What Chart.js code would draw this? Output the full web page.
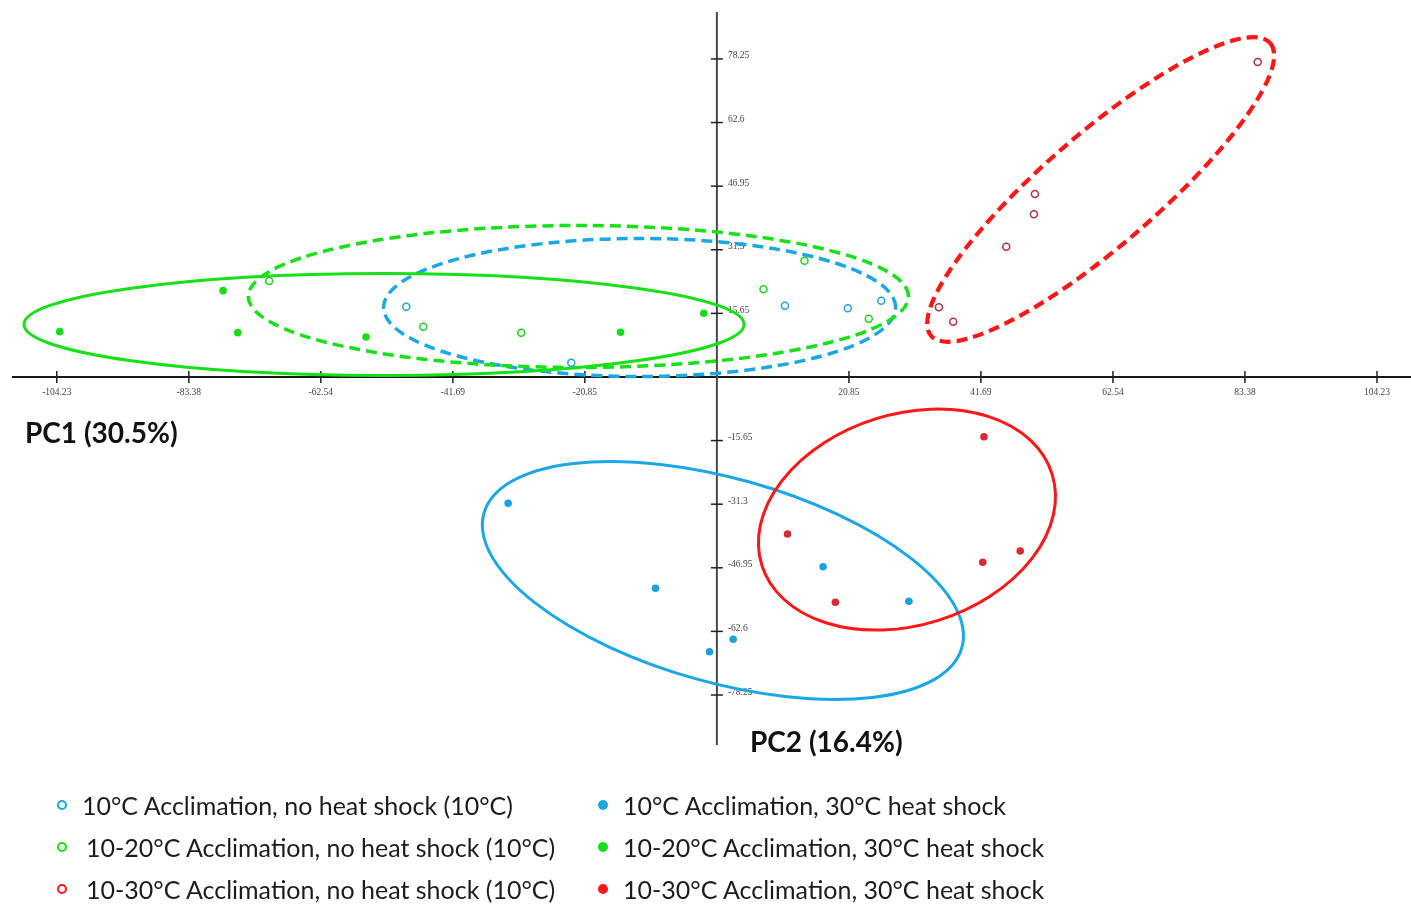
<!DOCTYPE html>
<html>
<head>
<meta charset="utf-8">
<script src="https://cdn.jsdelivr.net/npm/chart.js@4.4.1/dist/chart.umd.min.js"></script>
<style>
  html, body { margin: 0; padding: 0; background: #fff; }
  #wrap { position: relative; width: 1411px; height: 904px; overflow: hidden; }
  #pca { position: absolute; left: 0; top: 0; }
  #legend {
    position: absolute; left: 57px; top: 784px;
    display: grid; grid-template-columns: 541px auto;
    grid-auto-flow: column; grid-template-rows: repeat(3, 42px);
    font-family: Lato, "Open Sans", sans-serif; font-size: 25px; color: #1c1c1c;
  }
  .item { display: flex; align-items: center; white-space: nowrap; }
  .mark { width: 10px; height: 10px; border-radius: 50%; margin-right: 15px; box-sizing: border-box; flex: none; }
</style>
</head>
<body>
<div id="wrap">
  <canvas id="pca" width="1411" height="904"></canvas>
  <div id="legend"></div>
</div>
<script>
// tick labels
const xTicks = [-104.23, -83.38, -62.54, -41.69, -20.85, 20.85, 41.69, 62.54, 83.38, 104.23];
const yTicks = [78.25, 62.6, 46.95, 31.3, 15.65, -15.65, -31.3, -46.95, -62.6, -78.25];

// groups, legend order: no heat shock column, then 30°C heat shock column
const groupLabels = [
  "10°C Acclimation, no heat shock (10°C)",
  "10-20°C Acclimation, no heat shock (10°C)",
  "10-30°C Acclimation, no heat shock (10°C)",
  "10°C Acclimation, 30°C heat shock",
  "10-20°C Acclimation, 30°C heat shock",
  "10-30°C Acclimation, 30°C heat shock",
];

// PC1, PC2 scores
const acc10NoShock = [[-49.05, 17.30], [-22.99, 3.52], [10.74, 17.54], [20.67, 16.90], [25.96, 18.77]];
const acc20NoShock = [[-70.70, 23.62], [-46.35, 12.38], [-30.89, 10.90], [7.36, 21.58], [13.83, 28.62], [23.99, 14.35]];
const acc30NoShock = [[85.39, 77.51], [50.22, 45.03], [50.06, 40.03], [45.69, 32.06], [35.06, 17.15], [37.32, 13.61]];
const acc10Shock = [[-32.96, -31.08], [-9.70, -51.99], [-1.17, -67.59], [2.57, -64.54], [16.77, -46.68], [30.32, -55.19]];
const acc20Shock = [[-103.76, 11.15], [-77.97, 21.24], [-75.65, 10.90], [-55.40, 9.84], [-15.21, 11.00], [-2.07, 15.67]];
const acc30Shock = [[42.17, -14.69], [11.15, -38.63], [18.71, -55.44], [41.98, -45.60], [47.90, -42.81]];
const groupPoints = [acc10NoShock, acc20NoShock, acc30NoShock, acc10Shock, acc20Shock, acc30Shock];

// group ellipses: centre and two conjugate semi-axes, in PC units
const ellipseCentres = [[-12.20, 17.10], [-21.87, 19.81], [60.60, 46.14], [0.95, -50.07], [-52.56, 12.92], [30.01, -35.09]];
const ellipseAxisA = [[40.43, 0], [52.12, 0], [26.78, 36.0], [37.73, -16.54], [56.85, 0], [22.92, 11.20]];
const ellipseAxisB = [[0, 16.98], [0, 17.47], [5.78, -10.43], [-4.36, -24.16], [0, 12.55], [4.97, -24.78]];

const lineColors = ["#1ba6e4", "#16e016", "#ff1616", "#1ba6e4", "#16e016", "#ff1616"];
const dotColors = ["#2a9fd8", "#1fd01f", "#a8323e", "#1aa2e0", "#18dc18", "#d82a36"];
const isOpen = [true, true, true, false, false, false];
const lineWidths = [3.5, 3.5, 4.2, 3, 3, 3];

const pcaAxes = {
  id: "pcaAxes",
  beforeDatasetsDraw(chart) {
    const { ctx, chartArea: a, scales: { x, y } } = chart;
    const x0 = x.getPixelForValue(0);
    const y0 = y.getPixelForValue(0);
    ctx.save();

    ctx.lineWidth = 2;
    ctx.strokeStyle = "#1a1a1a";
    ctx.beginPath(); ctx.moveTo(a.left, y0); ctx.lineTo(a.right, y0); ctx.stroke();
    ctx.strokeStyle = "#4a4a4a";
    ctx.beginPath(); ctx.moveTo(x0, a.top); ctx.lineTo(x0, a.bottom); ctx.stroke();

    ctx.lineWidth = 1.5;
    ctx.strokeStyle = "#222";
    ctx.fillStyle = "#444";
    ctx.font = "9.5px 'Liberation Serif', serif";
    ctx.textAlign = "center";
    ctx.textBaseline = "middle";
    xTicks.forEach(v => {
      const px = x.getPixelForValue(v);
      ctx.beginPath(); ctx.moveTo(px, y0 - 6); ctx.lineTo(px, y0 + 6); ctx.stroke();
      ctx.fillText(v.toFixed(2), px, y0 + 16);
    });
    ctx.textAlign = "left";
    yTicks.forEach(v => {
      const py = y.getPixelForValue(v);
      ctx.beginPath(); ctx.moveTo(x0 - 6, py); ctx.lineTo(x0 + 6, py); ctx.stroke();
      ctx.fillText(String(v), x0 + 11, py - 3);
    });

    groupPoints.forEach((_, i) => {
      const [cx, cy] = ellipseCentres[i];
      const [ax, ay] = ellipseAxisA[i];
      const [bx, by] = ellipseAxisB[i];
      const px = x.getPixelForValue(cx), py = y.getPixelForValue(cy);
      ctx.save();
      ctx.translate(px, py);
      ctx.transform(
        x.getPixelForValue(cx + ax) - px, y.getPixelForValue(cy + ay) - py,
        x.getPixelForValue(cx + bx) - px, y.getPixelForValue(cy + by) - py, 0, 0);
      ctx.beginPath();
      ctx.arc(0, 0, 1, 0, Math.PI * 2);
      ctx.restore();
      ctx.setLineDash(isOpen[i] ? [11, 6] : []);
      ctx.lineWidth = lineWidths[i];
      ctx.strokeStyle = lineColors[i];
      ctx.stroke();
    });
    ctx.restore();
  },
  afterDraw(chart) {
    const { ctx } = chart;
    ctx.save();
    ctx.fillStyle = "#111";
    ctx.font = "bold 28px Lato, 'Open Sans', sans-serif";
    ctx.textBaseline = "middle";
    ctx.fillText("PC1 (30.5%)", 25, 434);
    ctx.fillText("PC2 (16.4%)", 750, 743);
    ctx.restore();
  },
};

const datasets = groupPoints.map((pts, i) => ({
  label: groupLabels[i],
  data: pts.map(([px, py]) => ({ x: px, y: py })),
  pointStyle: "circle",
  pointRadius: isOpen[i] ? 3.5 : 3.8,
  pointBorderWidth: isOpen[i] ? 1.5 : 0,
  pointBackgroundColor: isOpen[i] ? "#fff" : dotColors[i],
  pointBorderColor: dotColors[i],
  showLine: false,
}));

new Chart(document.getElementById("pca"), {
  type: "scatter",
  data: { datasets },
  options: {
    responsive: false,
    animation: false,
    layout: { autoPadding: false, padding: { left: 12, right: 0, top: 12, bottom: 159 } },
    plugins: { legend: { display: false }, tooltip: { enabled: false } },
    scales: {
      x: { type: "linear", display: false, min: -111.3, max: 109.6 },
      y: { type: "linear", display: false, min: -90.55, max: 89.8 },
    },
  },
  plugins: [pcaAxes],
});

const legend = document.getElementById("legend");
groupLabels.forEach((label, i) => {
  const item = document.createElement("div");
  item.className = "item";
  const mark = document.createElement("span");
  mark.className = "mark";
  if (isOpen[i]) mark.style.border = "2px solid " + lineColors[i];
  else mark.style.background = lineColors[i];
  if (i === 1 || i === 2) mark.style.marginRight = "19px";
  item.appendChild(mark);
  item.appendChild(document.createTextNode(label));
  legend.appendChild(item);
});
</script>
</body>
</html>
